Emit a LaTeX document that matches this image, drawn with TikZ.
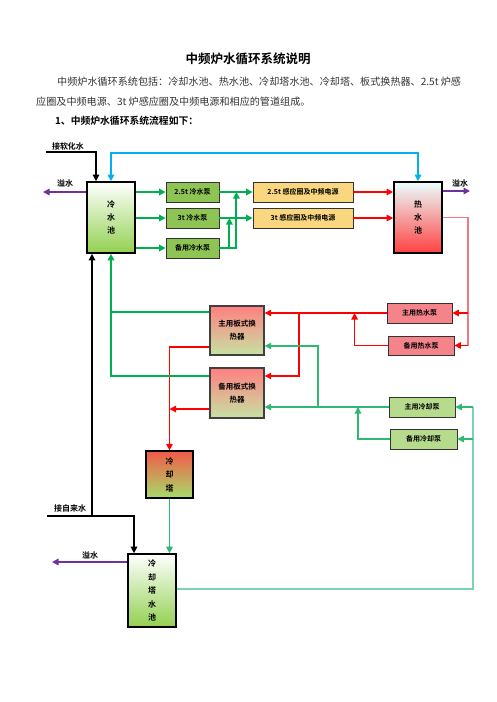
\documentclass[tikz,border=0pt]{standalone}
\usepackage{fontspec}
\setmainfont{Noto Sans CJK SC}[BoldFont={Noto Sans CJK SC Bold}]
\usepackage{tikz}
\usetikzlibrary{
  arrows.meta,
  positioning,
  calc
}

\definecolor{pipegreen}{HTML}{00B050}
\definecolor{loopgreen}{HTML}{2EB872}
\definecolor{palegreen}{HTML}{7DD3B0}
\definecolor{pipeblue}{HTML}{00B0F0}
\definecolor{pipepurple}{HTML}{7030A0}
\definecolor{pipered}{HTML}{FF0000}
\definecolor{palered}{HTML}{F07A80}
\definecolor{pumpgreen}{HTML}{8DC454}
\definecolor{coolgreen}{HTML}{B7DB8C}
\definecolor{pumpred}{HTML}{F4838A}
\definecolor{coilyellow}{HTML}{FAD77F}
\definecolor{poolgreen}{HTML}{92D050}
\definecolor{towerred}{HTML}{F05A48}
\definecolor{towermid}{HTML}{EDB56A}
\definecolor{towergreen}{HTML}{A8DC6A}

\tikzset{
  pool/.style={draw=black, line width=1.6pt, minimum width=48pt, inner sep=0pt,
    font=\bfseries\fontsize{8}{13}\selectfont, align=center},
  pumpbox/.style={draw=black!80, line width=0.8pt, minimum height=20pt, inner sep=0pt,
    font=\bfseries\fontsize{7}{8}\selectfont},
  hxbox/.style={draw=black!75, line width=1.4pt, minimum width=54pt, minimum height=49pt,
    inner sep=0pt, align=center, font=\bfseries\fontsize{7.5}{13}\selectfont,
    top color=red!50, bottom color=coolgreen!80},
  lbl/.style={font=\bfseries\fontsize{8}{9}\selectfont, inner sep=0pt},
  blackpipe/.style={draw=black, line width=1.3pt},
  bluepipe/.style={draw=pipeblue, line width=1.5pt},
  purplepipe/.style={draw=pipepurple, line width=1.5pt},
  greenpipe/.style={draw=pipegreen, line width=2pt},
  looppipe/.style={draw=loopgreen, line width=1.2pt},
  redpipe/.style={draw=pipered, line width=1.2pt}
}

\begin{document}
\begin{tikzpicture}[x=1pt, y=-1pt, >={Triangle[length=6.5pt,width=6.5pt]}]
  \useasboundingbox (0,0) rectangle (496,702);

  % Titel und Text
  \node[font=\bfseries\fontsize{12.5}{14}\selectfont] (title) at (248,59) {中频炉水循环系统说明};
  \node[anchor=west, inner sep=0pt, text=black!80, font=\fontsize{10.1}{12}\selectfont] (line1) at (57,82)
    {中频炉水循环系统包括：冷却水池、热水池、冷却塔水池、冷却塔、板式换热器、2.5t 炉感};
  \node[anchor=west, inner sep=0pt, text=black!80, font=\fontsize{10.1}{12}\selectfont] (line2) at (36,102)
    {应圈及中频电源、3t 炉感应圈及中频电源和相应的管道组成。};
  \node[anchor=west, inner sep=0pt, font=\bfseries\fontsize{9.8}{12}\selectfont] (head) at (55,121)
    {1、中频炉水循环系统流程如下：};

  % Wasserbecken
  \node[pool, minimum height=71pt, top color=white, bottom color=poolgreen] (cold) at (111,217.5) {冷\\水\\池};
  \node[pool, minimum height=71pt, top color=cyan!8, middle color=red!25, bottom color=red!75] (hot) at (418,217.5) {热\\水\\池};
  \node[pool, minimum height=73pt, font=\bfseries\fontsize{8}{13.5}\selectfont, top color=white, bottom color=poolgreen] (tpool) at (152,590.5) {冷\\却\\塔\\水\\池};
  \node[pool, line width=1.2pt, minimum width=47pt, minimum height=47pt, font=\bfseries\fontsize{8}{13.5}\selectfont,
    shading=axis, top color=towerred, middle color=towermid, bottom color=towergreen] (tower) at (169.5,474.5) {冷\\却\\塔};

  % Pumpen und Stromquellen
  \node[pumpbox, minimum width=53pt, fill=pumpgreen] (p25) at (192.5,192) {2.5t 冷水泵};
  \node[pumpbox, minimum width=53pt, fill=pumpgreen] (p3) at (192.5,218) {3t 冷水泵};
  \node[pumpbox, minimum width=53pt, fill=pumpgreen] (pbk) at (192.5,248) {备用冷水泵};
  \node[pumpbox, minimum width=100pt, fill=coilyellow] (s25) at (303,192) {2.5t 感应圈及中频电源};
  \node[pumpbox, minimum width=100pt, fill=coilyellow] (s3) at (303,218) {3t 感应圈及中频电源};
  \node[pumpbox, minimum width=65pt, fill=pumpred] (hpa) at (419.5,313) {主用热水泵};
  \node[pumpbox, minimum width=66pt, minimum height=19pt, fill=pumpred] (hpb) at (421,345.5) {备用热水泵};
  \node[pumpbox, minimum width=66pt, fill=coolgreen] (cpa) at (422,407) {主用冷却泵};
  \node[pumpbox, minimum width=67pt, fill=coolgreen] (cpb) at (423.5,439) {备用冷却泵};

  % Waermetauscher
  \node[hxbox] (hxa) at (237,330.5) {主用板式换\\热器};
  \node[hxbox, minimum height=50pt] (hxb) at (237,393) {备用板式换\\热器};

  % Zulauf und Ueberlauf
  \coordinate (softin) at (46,152);
  \coordinate (tapin) at (47,516);
  \coordinate (ovcold) at (43,192);
  \coordinate (ovhot) at (470,191);
  \coordinate (ovtower) at (52,562);
  \node[lbl] (softlbl) at (68,146) {接软化水};
  \node[lbl] (taplbl) at (70,508) {接自来水};
  \node[lbl] (ovlbl1) at (65,183) {溢水};
  \node[lbl] (ovlbl2) at (460,183) {溢水};
  \node[lbl] (ovlbl3) at (90,555) {溢水};

  \draw[blackpipe,->] (softin) -| ([xshift=-15pt]cold.north);
  \draw[blackpipe,->] (tapin) -| ([xshift=-18pt]tpool.north);
  \draw[blackpipe,->] (tapin -| 92,0) -- (cold.south -| 92,0);
  \draw[bluepipe,<->] (cold.north) -- (cold.north |- 0,153) -| (hot.north);
  \draw[purplepipe,->] (cold.west |- ovcold) -- (ovcold);
  \draw[purplepipe,->] (hot.east |- ovhot) -- (ovhot);
  \draw[purplepipe,->] (tpool.west |- ovtower) -- (ovtower);

  % Kaltwasserkreis
  \draw[greenpipe,->] (cold.east |- p25) -- (p25);
  \draw[greenpipe,->] (cold.east |- p3) -- (p3);
  \draw[greenpipe,->] (cold.east |- pbk) -- (pbk);
  \draw[greenpipe,->] (p25) -- (s25);
  \draw[greenpipe,->] (p3) -- (s3);
  \draw[greenpipe,->] (pbk.east) -| ($(p3.east)+(10,0)$);
  \draw[greenpipe,->] (pbk.east) -| ($(p25.east)+(17,0)$);
  \draw[redpipe,->] (s25) -- (hot.west |- s25);
  \draw[redpipe,->] (s3) -- (hot.west |- s3);

  % Heisswasserkreis
  \coordinate (hotret) at (468,217.5);
  \draw[redpipe, draw=palered] (hot.east |- hotret) -- (hotret) -- (hotret |- hpb);
  \draw[redpipe,->] (hotret |- hpa) -- (hpa.east);
  \draw[redpipe,->] (hotret |- hpb) -- (hpb.east);
  \draw[redpipe,->] (hpa.west) -- (hxa.east |- hpa);
  \draw[redpipe,->] (hpb.west) -| ($(hpa.west)+(-32,0)$);
  \draw[redpipe,->] (299,313) |- (hxb.east |- 0,376);
  \draw[redpipe,->] (hxa.west |- 0,347) -| (tower.north);
  \draw[redpipe,->] (hxb.west |- 0,409) -- (tower.north |- 0,409);

  % Kuehlkreis
  \draw[greenpipe,->] (hxa.west |- 0,312) -| (cold.south);
  \draw[greenpipe] (hxb.west |- 0,376) -- (cold.south |- 0,376) -- (cold.south |- 0,312);
  \draw[looppipe,->] (tower.south) -- (tower.south |- tpool.north);
  \draw[looppipe,->] (cpa.west) -- (hxb.east |- cpa);
  \draw[looppipe,->] (318,407) |- (hxa.east |- 0,346);
  \draw[looppipe,->] (cpb.west) -| (358,407);
  \draw[looppipe, draw=palegreen] (tpool.east |- 0,589) -| (473,407);
  \draw[looppipe,->] (473,407) -- (cpa.east);
  \draw[looppipe,->] (473,439) -- (cpb.east);
\end{tikzpicture}
\end{document}
